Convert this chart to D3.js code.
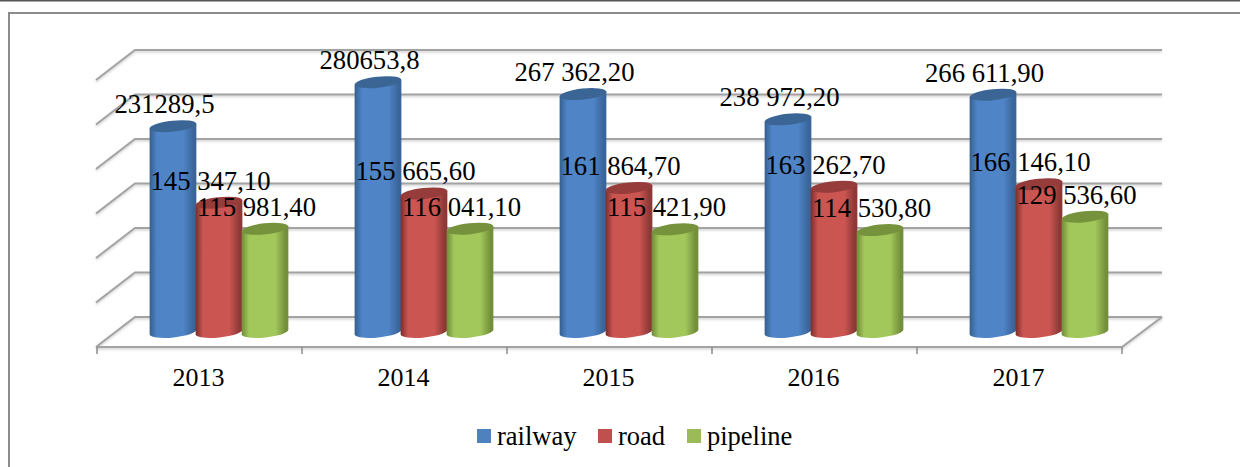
<!DOCTYPE html>
<html><head><meta charset="utf-8">
<script src="https://cdn.jsdelivr.net/npm/d3@7"></script>
<style>
html,body{margin:0;padding:0;background:#fff;overflow:hidden}
svg{display:block}
text{font-family:"Liberation Serif","Times New Roman",serif;fill:#000}
</style></head><body>
<script>
const years = ["2013","2014","2015","2016","2017"];
const seriesNames = ["railway","road","pipeline"];
const railway = [231289.5,280653.8,267362.2,238972.2,266611.9];
const road = [145347.1,155665.6,161864.7,163262.7,166146.1];
const pipeline = [115981.4,116041.1,115421.9,114530.8,129536.6];
const railwayLabels = ["231289,5","280653,8","267 362,20","238 972,20","266 611,90"];
const roadLabels = ["145 347,10","155 665,60","161 864,70","163 262,70","166 146,10"];
const pipelineLabels = ["115 981,40","116 041,10","115 421,90","114 530,80","129 536,60"];
const valueTicks = [0,50000,100000,150000,200000,250000,300000];

const W=1240,H=467;
const svg=d3.select("body").append("svg").attr("width",W).attr("height",H);
const defs=svg.append("defs");
const palette=[
 {edgeL:"#34608f",mid:"#4f84c6",edgeR:"#3a659a",top:"#3a6594",leg:"#4f81bd"},
 {edgeL:"#7a2e2c",mid:"#cb5551",edgeR:"#8c3836",top:"#963c3a",leg:"#c0504d"},
 {edgeL:"#6f8b38",mid:"#a2c75b",edgeR:"#748f3b",top:"#76923c",leg:"#9bbb59"}
];
palette.forEach((p,i)=>{
  const g=defs.append("linearGradient").attr("id","g"+i).attr("x1",0).attr("x2",1).attr("y1",0).attr("y2",0);
  [[0,p.edgeL],[.16,p.mid],[.72,p.mid],[.94,p.edgeR],[1,p.edgeR]].forEach(s=>g.append("stop").attr("offset",s[0]).attr("stop-color",s[1]));
});
const sh=defs.append("filter").attr("id","sh").attr("x","-5%").attr("y","-50%").attr("width","110%").attr("height","250%");
sh.append("feDropShadow").attr("dx",0).attr("dy",1.5).attr("stdDeviation",1).attr("flood-color","#999").attr("flood-opacity",.5);

// frame
svg.append("line").attr("x1",0).attr("x2",W).attr("y1",0.5).attr("y2",0.5).attr("stroke","#555").attr("stroke-width",2);
svg.append("path").attr("d",`M9,${H}V13H${W}`).attr("fill","none").attr("stroke","#8c8c8c").attr("stroke-width",2);

// scales
const frontL=97,frontR=1122,floorFront=347,depthX=39,depthY=30;
const x=d3.scaleBand().domain(years).range([frontL,frontR]).padding(0);
const yBack=d3.scaleLinear().domain([0,300000]).range([floorFront-depthY,50]);
const scaleH=v=>yBack(0)-yBack(v);
const inner=d3.scaleBand().domain(seriesNames).range([53,191]);

// walls
const grid=svg.append("g").attr("fill","none").attr("stroke","#a3a3a3").attr("stroke-width",2);
valueTicks.forEach(t=>{
  const y=yBack(t);
  grid.append("path").attr("filter","url(#sh)")
    .attr("d",`M${frontL-1},${y+depthY}L${frontL+depthX-1},${y}H${frontR+depthX+1}`);
});
grid.append("path").attr("filter","url(#sh)")
  .attr("d",`M${frontL},${floorFront}H${frontR}L${frontR+depthX+1},${yBack(0)}`);
// ticks
const ax=svg.append("g").attr("stroke","#8c8c8c").attr("stroke-width",1.5);
[...years.map(d=>x(d)),frontR].forEach(v=>ax.append("line").attr("x1",v).attr("x2",v).attr("y1",floorFront).attr("y2",floorFront+7));

// columns
const baseY=332,rx=23.5,ry=5.5,rot=-6,rad=rot*Math.PI/180;
const dx=rx*Math.cos(rad),dy=rx*Math.sin(rad);
const allValues=[railway,road,pipeline],allLabels=[railwayLabels,roadLabels,pipelineLabels];
const cols=svg.append("g");
years.forEach((yr,yi)=>{
  seriesNames.forEach((s,si)=>{
    const cx=x(yr)+inner(s)+inner.bandwidth()/2;
    const h=scaleH(allValues[si][yi]),top=baseY-h;
    cols.append("path").attr("fill",`url(#g${si})`)
      .attr("d",`M${cx-dx},${top-dy}L${cx-dx},${baseY-dy}A${rx},${ry} ${rot} 0 0 ${cx+dx},${baseY+dy}L${cx+dx},${top+dy}Z`);
    cols.append("ellipse").attr("cx",cx).attr("cy",top).attr("rx",rx).attr("ry",ry)
      .attr("transform",`rotate(${rot} ${cx} ${top})`).attr("fill",palette[si].top);
  });
});
// data labels
const lab=svg.append("g").attr("font-size",26.7).attr("text-anchor","middle");
years.forEach((yr,yi)=>{
  seriesNames.forEach((s,si)=>{
    const cx=x(yr)+inner(s)+inner.bandwidth()/2;
    lab.append("text").attr("x",cx-8.5).attr("y",baseY-scaleH(allValues[si][yi])-13).text(allLabels[si][yi]);
  });
});
// category labels
const cat=svg.append("g").attr("font-size",26).attr("text-anchor","middle");
years.forEach(yr=>cat.append("text").attr("x",x(yr)+x.bandwidth()/2-1).attr("y",386).text(yr));

// legend
const legX=d3.scaleOrdinal().domain(seriesNames).range([477,598,687]);
const leg=svg.append("g");
seriesNames.forEach((s,i)=>{
  leg.append("rect").attr("x",legX(s)).attr("y",429).attr("width",14).attr("height",14).attr("fill",palette[i].leg);
  leg.append("text").attr("x",legX(s)+20).attr("y",445).attr("font-size",26.5).text(s);
});
</script>
</body></html>
